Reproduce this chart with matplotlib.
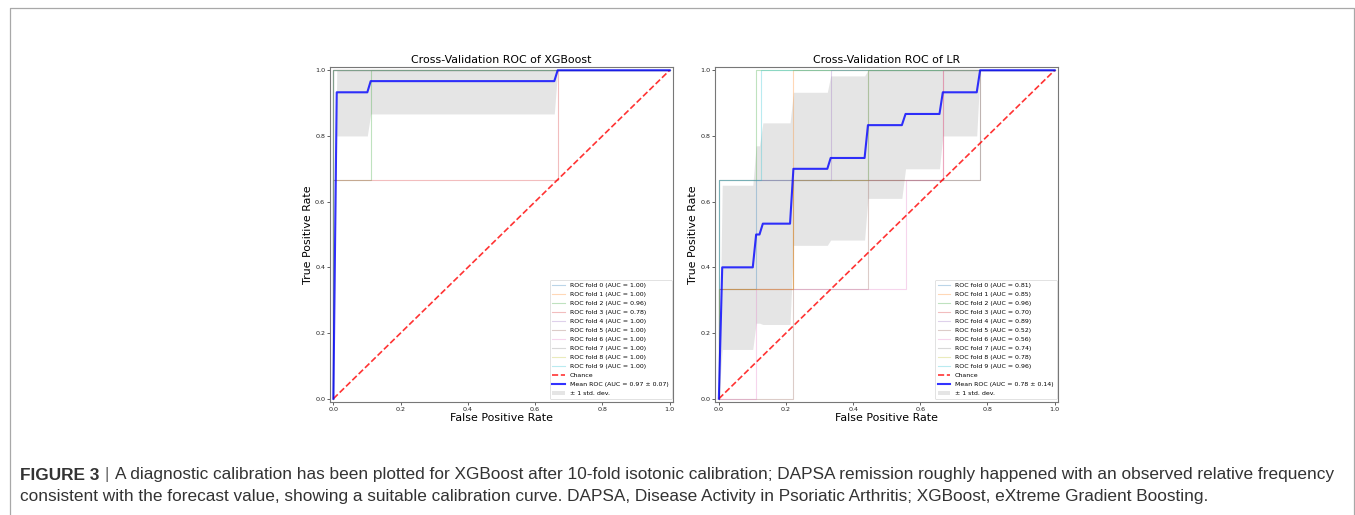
import matplotlib
matplotlib.use("Agg")
import matplotlib.pyplot as plt
from matplotlib import font_manager
from matplotlib.font_manager import FontProperties
from matplotlib.lines import Line2D

# ---------------- data ----------------
fold_names = ["ROC fold %d" % i for i in range(10)]

# XGBoost folds (fpr, tpr step curves) and AUCs
xgb_auc = [1.00, 1.00, 0.96, 0.78, 1.00, 1.00, 1.00, 1.00, 1.00, 1.00]
xgb_fold_fpr = [
    [0, 0, 1], [0, 0, 1],
    [0, 0, 0.111, 0.111, 1],
    [0, 0, 0.667, 0.667, 1],
    [0, 0, 1], [0, 0, 1], [0, 0, 1], [0, 0, 1], [0, 0, 1], [0, 0, 1],
]
xgb_fold_tpr = [
    [0, 1, 1], [0, 1, 1],
    [0, 0.667, 0.667, 1, 1],
    [0, 0.667, 0.667, 1, 1],
    [0, 1, 1], [0, 1, 1], [0, 1, 1], [0, 1, 1], [0, 1, 1], [0, 1, 1],
]
xgb_mean_fpr = [0, 0.010, 0.101, 0.111, 0.657, 0.667, 1.0]
xgb_mean_tpr = [0, 0.933, 0.933, 0.967, 0.967, 1.0, 1.0]
xgb_lower = [0, 0.800, 0.800, 0.867, 0.867, 1.0, 1.0]
xgb_upper = [0, 1.0, 1.0, 1.0, 1.0, 1.0, 1.0]
xgb_mean_auc, xgb_std_auc = 0.97, 0.07

# LR folds
lr_auc = [0.81, 0.85, 0.96, 0.70, 0.89, 0.52, 0.56, 0.74, 0.78, 0.96]
lr_fold_fpr = [
    [0, 0, 0.111, 0.111, 0.444, 0.444, 1],
    [0, 0, 0.222, 0.222, 1],
    [0, 0, 0.111, 0.111, 1],
    [0, 0, 0.222, 0.222, 0.667, 0.667, 1],
    [0, 0, 0.333, 0.333, 1],
    [0, 0.222, 0.222, 0.444, 0.444, 0.778, 0.778, 1],
    [0, 0.111, 0.111, 0.556, 0.556, 0.667, 0.667, 1],
    [0, 0, 0.778, 0.778, 1],
    [0, 0, 0.222, 0.222, 0.444, 0.444, 1],
    [0, 0, 0.125, 0.125, 1],
]
lr_fold_tpr = [
    [0, 0.333, 0.333, 0.667, 0.667, 1, 1],
    [0, 0.333, 0.333, 1, 1],
    [0, 0.667, 0.667, 1, 1],
    [0, 0.333, 0.333, 0.667, 0.667, 1, 1],
    [0, 0.667, 0.667, 1, 1],
    [0, 0, 0.333, 0.333, 0.667, 0.667, 1, 1],
    [0, 0, 0.333, 0.333, 0.667, 0.667, 1, 1],
    [0, 0.667, 0.667, 1, 1],
    [0, 0.333, 0.333, 0.667, 0.667, 1, 1],
    [0, 0.667, 0.667, 1, 1],
]
lr_mean_fpr = [0, 0.010, 0.101, 0.111, 0.121, 0.131, 0.212, 0.222, 0.323, 0.333,
               0.434, 0.444, 0.545, 0.556, 0.657, 0.667, 0.768, 0.778, 1.0]
lr_mean_tpr = [0, 0.400, 0.400, 0.500, 0.500, 0.533, 0.533, 0.700, 0.700, 0.733,
               0.733, 0.833, 0.833, 0.867, 0.867, 0.933, 0.933, 1.0, 1.0]
lr_upper = [0, 0.650, 0.650, 0.770, 0.770, 0.840, 0.840, 0.933, 0.933, 0.983,
            0.983, 1.0, 1.0, 1.0, 1.0, 1.0, 1.0, 1.0, 1.0]
lr_lower = [0, 0.150, 0.150, 0.230, 0.230, 0.226, 0.226, 0.467, 0.467, 0.483,
            0.483, 0.610, 0.610, 0.700, 0.700, 0.800, 0.800, 1.0, 1.0]
lr_mean_auc, lr_std_auc = 0.78, 0.14

ticks = [0.0, 0.2, 0.4, 0.6, 0.8, 1.0]
titles = ["Cross-Validation ROC of XGBoost", "Cross-Validation ROC of LR"]

caption_bold = "FIGURE 3"
caption_line1 = "A diagnostic calibration has been plotted for XGBoost after 10-fold isotonic calibration; DAPSA remission roughly happened with an observed relative frequency"
caption_line2 = "consistent with the forecast value, showing a suitable calibration curve. DAPSA, Disease Activity in Psoriatic Arthritis; XGBoost, eXtreme Gradient Boosting."

# ---------------- figure ----------------
W, H = 1355, 515
fig = plt.figure(figsize=(W / 100, H / 100), dpi=100)
fig.patch.set_facecolor("white")

def px_axes(x0, x1, ytop, ybot):
    return fig.add_axes([x0 / W, 1 - ybot / H, (x1 - x0) / W, (ybot - ytop) / H])

ax1 = px_axes(330, 673, 67, 402)
ax2 = px_axes(715.5, 1058, 67, 402)

panels = [
    (ax1, xgb_fold_fpr, xgb_fold_tpr, xgb_auc, xgb_mean_fpr, xgb_mean_tpr, xgb_lower, xgb_upper,
     xgb_mean_auc, xgb_std_auc, titles[0]),
    (ax2, lr_fold_fpr, lr_fold_tpr, lr_auc, lr_mean_fpr, lr_mean_tpr, lr_lower, lr_upper,
     lr_mean_auc, lr_std_auc, titles[1]),
]

for (ax, ffpr, ftpr, aucs, mfpr, mtpr, lo, hi, mauc, sauc, title) in panels:
    for i in range(10):
        ax.plot(ffpr[i], ftpr[i], color="C%d" % i, lw=0.8, alpha=0.3,
                label="%s (AUC = %.2f)" % (fold_names[i], aucs[i]))
    ax.plot([0, 1], [0, 1], linestyle="--", lw=1.2, color="r", alpha=0.8, label="Chance")
    ax.plot(mfpr, mtpr, color="b", lw=1.5, alpha=0.8,
            label="Mean ROC (AUC = %.2f \u00b1 %.2f)" % (mauc, sauc))
    ax.fill_between(mfpr, lo, hi, color="grey", alpha=0.2, lw=0, label="\u00b1 1 std. dev.")
    ax.set_xlim(-0.01, 1.01)
    ax.set_ylim(-0.01, 1.01)
    ax.set_xticks(ticks)
    ax.set_yticks(ticks)
    ax.tick_params(labelsize=4.6, length=2, width=0.5, pad=1.5, colors="#222222")
    for sp in ax.spines.values():
        sp.set_linewidth(0.8)
        sp.set_color("#777777")
    ax.set_title(title, fontsize=7.9, pad=3)
    ax.set_xlabel("False Positive Rate", fontsize=7.9, labelpad=0.5)
    ax.set_ylabel("True Positive Rate", fontsize=7.9, labelpad=1.5)
    leg = ax.legend(loc="lower right", bbox_to_anchor=(1 - 1.5 / 343, 3 / 335),
                    borderaxespad=0, fontsize=4.5, labelspacing=0.58,
                    handlelength=2.0, handletextpad=0.8, borderpad=0.45, framealpha=0.8)
    leg.get_frame().set_linewidth(0.5)

# border box
bx0, bx1, by0 = 9.5, 1353.5, 7.5
fig.add_artist(Line2D([bx0 / W, bx0 / W, bx1 / W, bx1 / W],
                      [-0.02, 1 - by0 / H, 1 - by0 / H, -0.02],
                      transform=fig.transFigure, color="#a8a8a8", lw=0.9))

# caption font
cap_family = "Liberation Sans"
for fam in ["Liberation Sans Narrow", "Arial Narrow"]:
    try:
        font_manager.findfont(FontProperties(family=fam), fallback_to_default=False)
        cap_family = fam
        break
    except Exception:
        pass

renderer = fig.canvas.get_renderer()
cap_color = "#333333"
x_start = 20.0
y1 = 1 - 475 / H
y2 = 1 - 497 / H

def layout(size):
    items = []
    x = x_start
    t = fig.text(x / W, y1, caption_bold, fontsize=size, fontweight="bold", color=cap_color,
                 family=cap_family, va="center", ha="left")
    x = t.get_window_extent(renderer).x1 + size * 0.45
    items.append(t)
    t = fig.text(x / W, y1, "|", fontsize=size, color="#666666", family=cap_family,
                 va="center", ha="left")
    x = t.get_window_extent(renderer).x1 + size * 0.45
    items.append(t)
    t = fig.text(x / W, y1, caption_line1, fontsize=size, color=cap_color, family=cap_family,
                 va="center", ha="left")
    items.append(t)
    xend = t.get_window_extent(renderer).x1
    t2 = fig.text(x_start / W, y2, caption_line2, fontsize=size, color=cap_color,
                  family=cap_family, va="center", ha="left")
    items.append(t2)
    return items, xend

items, xend = layout(12)
target = 1330 - x_start
size = 12 * target / (xend - x_start)
for it in items:
    it.remove()
layout(size)

fig.savefig("out.png", dpi=100, facecolor="white")
